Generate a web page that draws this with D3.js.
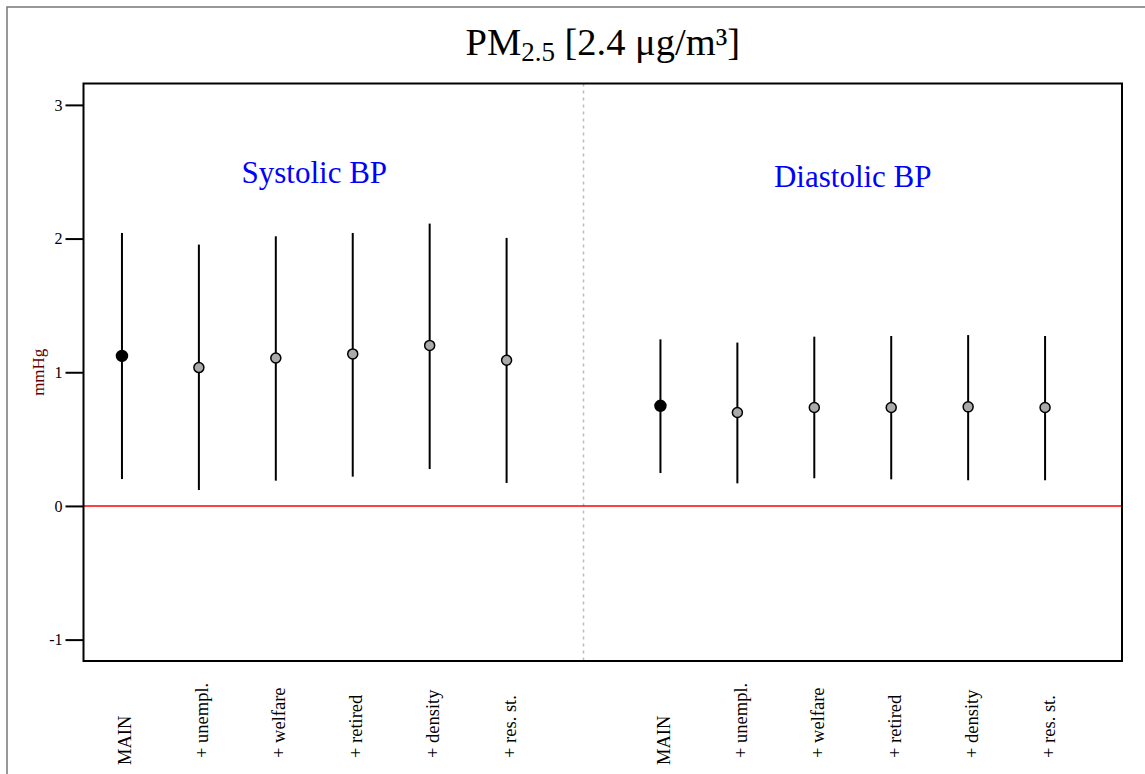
<!DOCTYPE html>
<html>
<head>
<meta charset="utf-8">
<script src="https://cdn.jsdelivr.net/npm/d3@7"></script>
<style>
  body { margin: 0; background: #fff; }
  text { font-family: "Liberation Serif", "Times New Roman", serif; }
</style>
</head>
<body>
<div id="chart"></div>
<script>
// model labels, shared by both panels
var models = ["MAIN", "+ unempl.", "+ welfare", "+ retired", "+ density", "+ res. st."];

// x index of each model, the divider and the panel titles
var sysIdx = [1, 2, 3, 4, 5, 6];
var diaIdx = [8, 9, 10, 11, 12, 13];
var dividerIdx = 7;

// estimates and 95% limits, mmHg
var sysEst = [1.122, 1.035, 1.107, 1.137, 1.201, 1.090];
var sysLo  = [0.201, 0.119, 0.189, 0.219, 0.276, 0.172];
var sysHi  = [2.042, 1.955, 2.017, 2.042, 2.112, 2.005];

var diaEst = [0.749, 0.699, 0.736, 0.736, 0.741, 0.736];
var diaLo  = [0.246, 0.169, 0.207, 0.199, 0.192, 0.192];
var diaHi  = [1.246, 1.222, 1.266, 1.271, 1.278, 1.271];

var panelTitles = [
    {label: "Systolic BP", x: 3.5, y: 2.5},
    {label: "Diastolic BP", x: 10.5, y: 2.47}
];
var yTicks = [-1, 0, 1, 2, 3];

var ctx = {
    w: 1145,
    h: 774,
    left: 83.5,
    right: 1122,
    top: 83.5,
    bottom: 661
};

var rows = [];
[[sysIdx, sysEst, sysLo, sysHi], [diaIdx, diaEst, diaLo, diaHi]].forEach(function(p) {
    p[0].forEach(function(idx, i) {
        rows.push({x: idx, est: p[1][i], lo: p[2][i], hi: p[3][i], model: models[i], main: i == 0});
    });
});

var x = d3.scaleLinear().domain([0.5, 14]).range([ctx.left, ctx.right]);
var y = d3.scaleLinear().domain([-1.16, 3.16]).range([ctx.bottom, ctx.top]);

var svg = d3.select("#chart").append("svg")
    .attr("width", ctx.w)
    .attr("height", ctx.h);

// window frame
svg.append("path")
    .attr("d", "M7," + ctx.h + "V7H" + ctx.w)
    .attr("fill", "none")
    .attr("stroke", "#777")
    .attr("stroke-width", 1.5);

// title
var title = svg.append("text")
    .attr("x", (ctx.left + ctx.right) / 2)
    .attr("y", 55)
    .attr("text-anchor", "middle")
    .attr("font-size", "38.5px")
    .attr("fill", "#000");
title.append("tspan").text("PM");
title.append("tspan").attr("font-size", "27px").attr("dy", 6).text("2.5");
title.append("tspan").attr("dy", -6).text(" [2.4 μg/m³]");

// divider between panels
svg.append("line")
    .attr("x1", x(dividerIdx)).attr("x2", x(dividerIdx))
    .attr("y1", ctx.top).attr("y2", ctx.bottom)
    .attr("stroke", "#bbb")
    .attr("stroke-width", 1.5)
    .attr("stroke-dasharray", "3,4");

// zero line
svg.append("line")
    .attr("x1", ctx.left).attr("x2", ctx.right)
    .attr("y1", y(0)).attr("y2", y(0))
    .attr("stroke", "#f00")
    .attr("stroke-width", 1.5);

// y axis
var yAxis = svg.append("g")
    .attr("transform", "translate(" + ctx.left + ",0)")
    .call(d3.axisLeft(y).tickValues(yTicks).tickSize(18).tickPadding(3).tickFormat(d => String(d)));
yAxis.select(".domain").remove();
yAxis.selectAll("line").attr("stroke", "#000").attr("stroke-width", 2);
yAxis.selectAll("text")
    .attr("font-family", "Liberation Serif, serif")
    .attr("font-size", "16px")
    .attr("fill", "#000");

svg.append("text")
    .attr("transform", "translate(44," + y(1) + ") rotate(-90)")
    .attr("text-anchor", "middle")
    .attr("font-size", "17px")
    .attr("fill", "#600000")
    .text("mmHg");

// panel titles
svg.selectAll(".panel")
    .data(panelTitles)
    .enter()
    .append("text")
    .attr("class", "panel")
    .attr("x", d => x(d.x))
    .attr("y", d => y(d.y))
    .attr("dy", "0.35em")
    .attr("text-anchor", "middle")
    .attr("font-size", "31px")
    .attr("fill", "#0000ff")
    .text(d => d.label);

// error bars
svg.selectAll(".ci")
    .data(rows)
    .enter()
    .append("line")
    .attr("class", "ci")
    .attr("x1", d => x(d.x)).attr("x2", d => x(d.x))
    .attr("y1", d => y(d.lo)).attr("y2", d => y(d.hi))
    .attr("stroke", "#000")
    .attr("stroke-width", 2);

// point estimates
svg.selectAll(".est")
    .data(rows)
    .enter()
    .append("circle")
    .attr("class", "est")
    .attr("cx", d => x(d.x))
    .attr("cy", d => y(d.est))
    .attr("r", d => d.main ? 5.5 : 5)
    .attr("fill", d => d.main ? "#000" : "#aaa")
    .attr("stroke", "#000")
    .attr("stroke-width", 1.5);

// model labels under the plot
svg.selectAll(".model")
    .data(rows)
    .enter()
    .append("text")
    .attr("class", "model")
    .attr("transform", d => "translate(" + (x(d.x) + 3) + "," + (d.main ? 765 : 758) + ") rotate(-90)")
    .attr("dy", "0.35em")
    .attr("text-anchor", "start")
    .attr("font-size", "18.5px")
    .attr("fill", "#000")
    .text(d => d.model);

// plot box
svg.append("rect")
    .attr("x", ctx.left).attr("y", ctx.top)
    .attr("width", ctx.right - ctx.left)
    .attr("height", ctx.bottom - ctx.top)
    .attr("fill", "none")
    .attr("stroke", "#000")
    .attr("stroke-width", 2);
</script>
</body>
</html>
